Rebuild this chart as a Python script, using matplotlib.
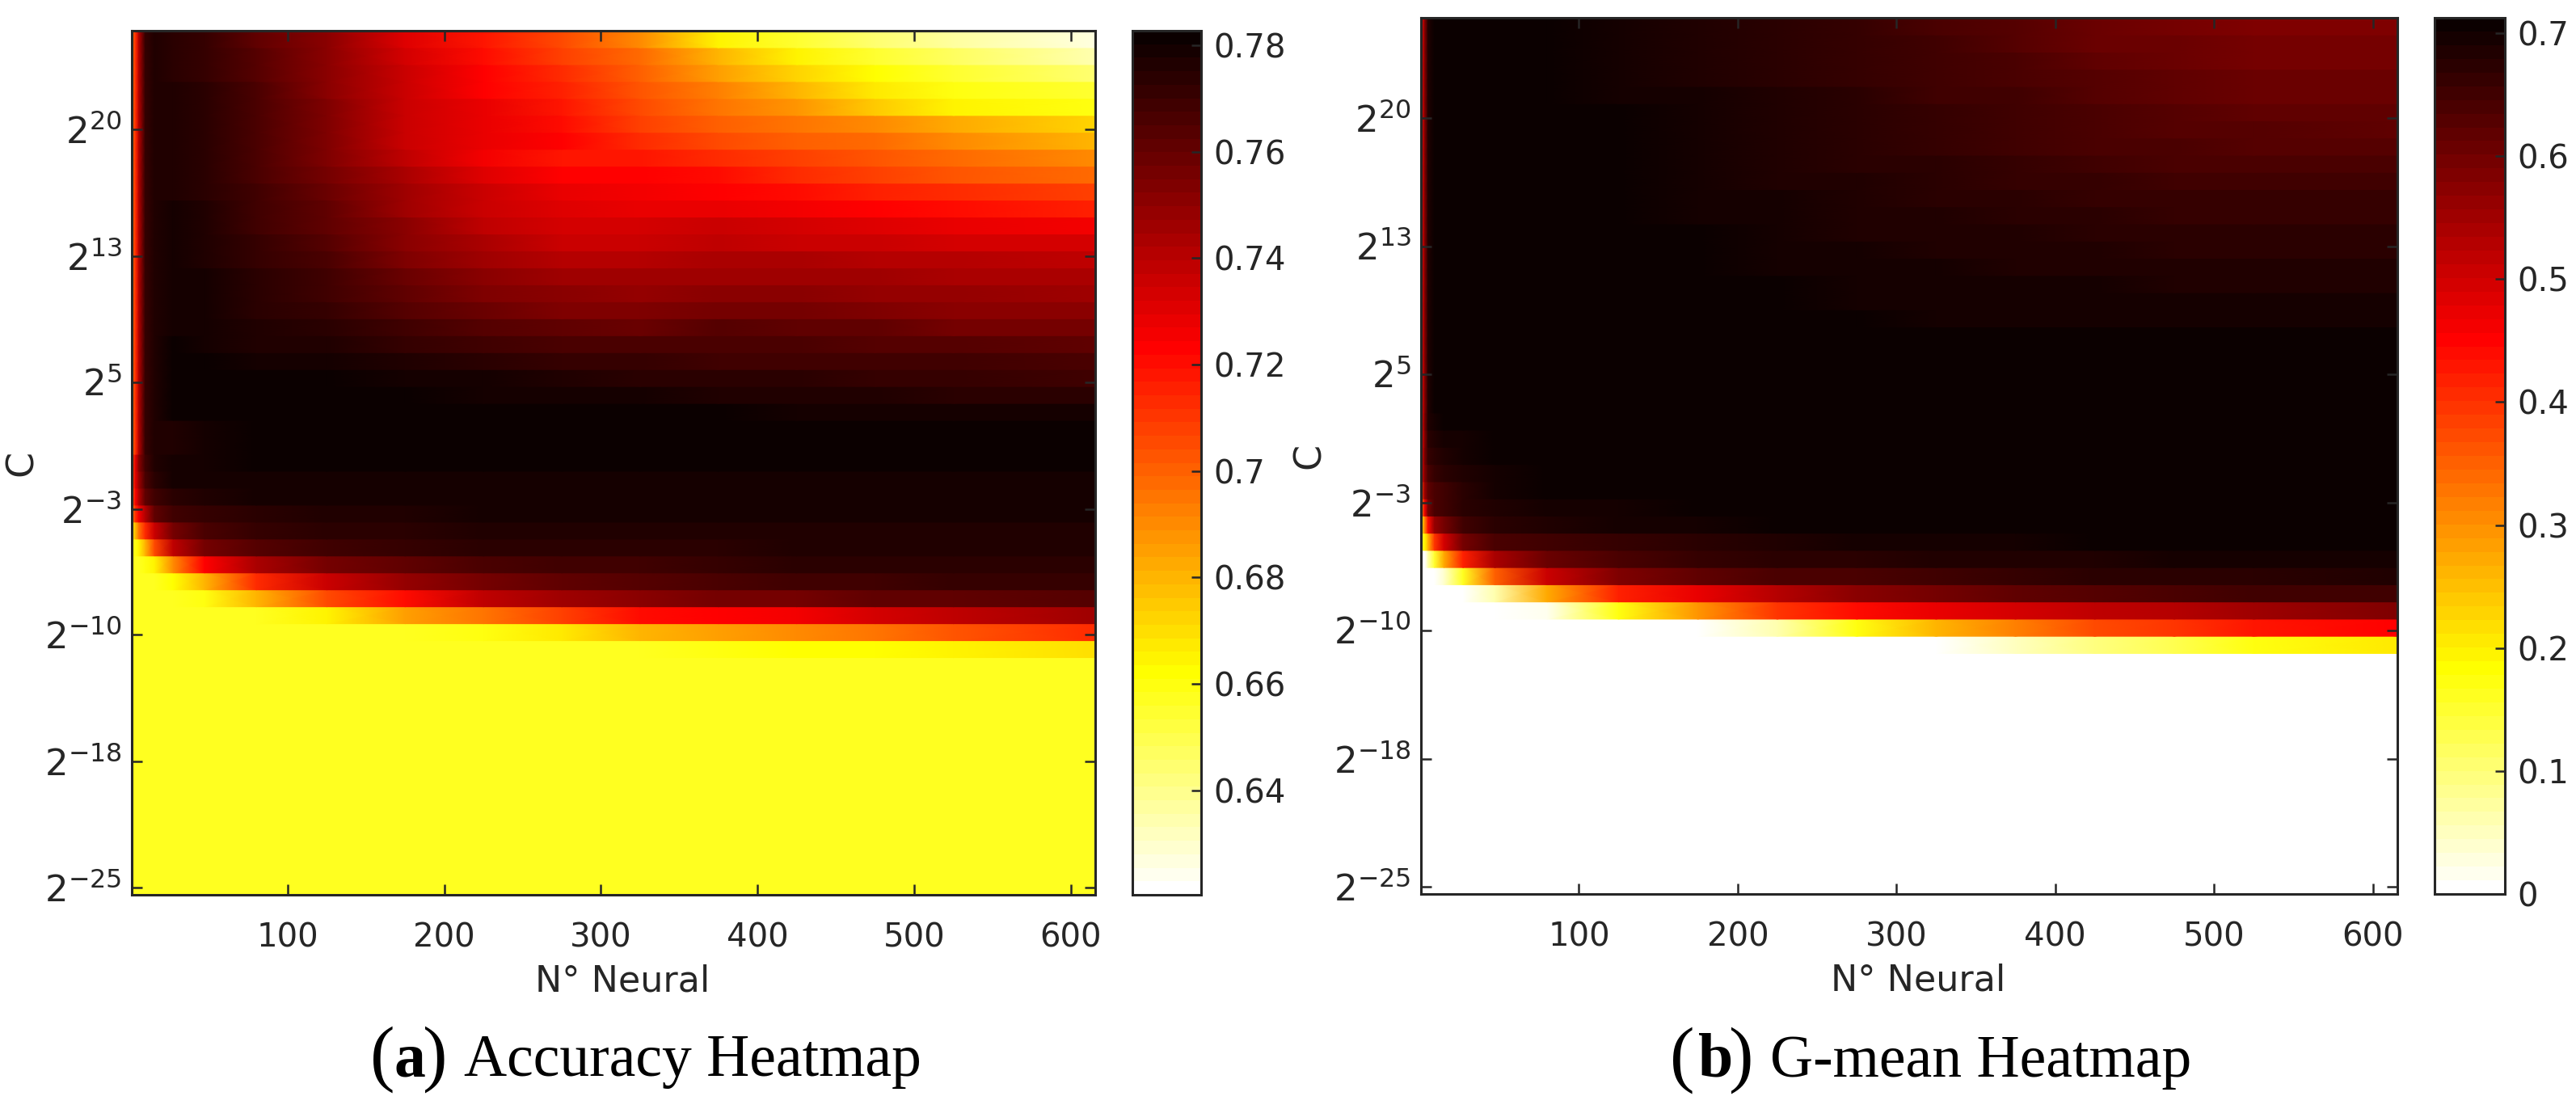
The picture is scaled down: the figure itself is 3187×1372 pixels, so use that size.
import matplotlib
matplotlib.use("Agg")
import matplotlib.pyplot as plt
import numpy as np

W, H = 3187, 1372

# N (hidden neurons) at each table column; rows run from C=2^25 (top) to C=2^-25 (bottom)
neuron_nodes = [0.5, 3, 5, 9, 15, 27, 47, 80, 125, 175, 225, 275, 325, 375, 425, 475, 525, 615.5]

x_ticks = [100, 200, 300, 400, 500, 600]
y_tick_rows = [0.93, 8.37, 15.86, 23.26, 30.75, 38.2, 45.68]
y_tick_exps = [-25, -18, -10, -3, 5, 13, 20]

acc_ticks = [0.64, 0.66, 0.68, 0.70, 0.72, 0.74, 0.76, 0.78]
acc_tick_labels = ["0.64", "0.66", "0.68", "0.7", "0.72", "0.74", "0.76", "0.78"]
acc_limits = (0.6204, 0.7827)
gm_ticks = [0, 0.1, 0.2, 0.3, 0.4, 0.5, 0.6, 0.7]
gm_tick_labels = ["0", "0.1", "0.2", "0.3", "0.4", "0.5", "0.6", "0.7"]
gm_limits = (0.0, 0.7125)

# values in thousandths
accuracy_rows = [
    [695, 712, 740, 772, 776, 775, 771, 762, 750, 731, 717, 705, 690, 665, 655, 645, 637, 626],
    [695, 712, 740, 772, 776, 775, 771, 763, 750, 733, 720, 709, 698, 680, 665, 655, 648, 635],
    [695, 712, 740, 772, 776, 775, 772, 764, 750, 735, 722, 713, 700, 685, 672, 662, 655, 645],
    [695, 712, 740, 772, 776, 776, 773, 765, 752, 735, 724, 715, 702, 692, 680, 668, 660, 654],
    [695, 712, 740, 772, 776, 776, 773, 766, 754, 735, 727, 717, 705, 695, 688, 675, 665, 660],
    [695, 712, 740, 772, 776, 776, 773, 766, 754, 736, 727, 720, 708, 700, 695, 690, 683, 672],
    [695, 712, 740, 772, 776, 777, 774, 766, 754, 737, 727, 722, 712, 706, 700, 697, 690, 680],
    [695, 712, 740, 772, 776, 777, 775, 766, 754, 739, 725, 719, 718, 712, 707, 703, 697, 690],
    [695, 712, 740, 772, 776, 777, 775, 767, 756, 743, 731, 723, 722, 720, 713, 708, 704, 698],
    [695, 712, 740, 772, 776, 777, 775, 768, 758, 745, 735, 727, 725, 723, 720, 715, 712, 707],
    [695, 712, 740, 772, 776, 778, 776, 769, 760, 747, 737, 731, 729, 729, 725, 722, 720, 715],
    [695, 712, 740, 772, 776, 778, 776, 770, 762, 750, 739, 733, 733, 735, 733, 731, 729, 725],
    [695, 712, 740, 772, 776, 779, 777, 771, 764, 752, 743, 737, 737, 738, 737, 735, 734, 732],
    [695, 712, 740, 772, 776, 779, 777, 772, 766, 754, 746, 741, 742, 744, 743, 742, 741, 738],
    [695, 712, 740, 772, 776, 779, 778, 773, 768, 758, 750, 745, 745, 747, 746, 745, 744, 743],
    [695, 712, 740, 772, 776, 780, 778, 774, 770, 760, 754, 750, 749, 751, 750, 749, 748, 747],
    [695, 712, 740, 772, 776, 780, 779, 775, 772, 764, 758, 754, 753, 757, 755, 754, 752, 751],
    [695, 712, 740, 772, 776, 780, 780, 776, 774, 768, 764, 760, 759, 763, 761, 760, 757, 757],
    [695, 712, 740, 772, 776, 781, 780, 777, 776, 772, 768, 766, 766, 767, 766, 763, 763, 762],
    [695, 712, 740, 772, 776, 781, 781, 779, 778, 776, 774, 772, 771, 770, 770, 769, 768, 767],
    [695, 712, 740, 772, 776, 781, 782, 782, 781, 779, 778, 776, 775, 774, 773, 772, 771, 770],
    [695, 712, 740, 772, 776, 781, 782, 782, 782, 781, 780, 779, 778, 777, 777, 776, 775, 775],
    [695, 712, 740, 772, 776, 781, 782, 782, 782, 782, 782, 782, 781, 781, 780, 780, 779, 779],
    [695, 712, 740, 772, 776, 777, 780, 781, 781, 782, 782, 782, 782, 782, 782, 782, 782, 782],
    [695, 712, 740, 772, 776, 777, 780, 781, 782, 782, 782, 782, 782, 782, 782, 782, 782, 782],
    [705, 730, 752, 770, 776, 778, 780, 781, 781, 781, 781, 781, 781, 781, 781, 781, 781, 781],
    [705, 730, 745, 766, 773, 778, 780, 780, 780, 780, 780, 780, 780, 780, 780, 780, 780, 780],
    [700, 725, 740, 760, 770, 775, 776, 778, 779, 779, 779, 779, 779, 779, 779, 779, 779, 779],
    [690, 712, 725, 741, 760, 768, 771, 773, 776, 777, 778, 778, 779, 779, 779, 779, 779, 779],
    [665, 680, 695, 712, 737, 757, 766, 771, 773, 775, 776, 776, 777, 777, 777, 777, 777, 777],
    [658, 660, 665, 680, 705, 738, 755, 763, 768, 771, 773, 774, 775, 775, 776, 776, 776, 776],
    [656, 657, 658, 660, 664, 690, 722, 744, 755, 762, 765, 768, 770, 772, 773, 773, 774, 774],
    [656, 656, 656, 656, 657, 661, 680, 712, 735, 748, 755, 760, 764, 767, 769, 770, 771, 772],
    [656, 656, 656, 656, 656, 657, 660, 680, 705, 720, 738, 746, 751, 755, 757, 760, 762, 763],
    [656, 656, 656, 656, 656, 656, 656, 656, 664, 685, 695, 708, 720, 723, 725, 732, 739, 746],
    [656, 656, 656, 656, 656, 656, 656, 656, 656, 656, 660, 668, 680, 685, 690, 695, 703, 712],
    [656, 656, 656, 656, 656, 656, 656, 656, 656, 656, 656, 656, 656, 659, 661, 663, 665, 669],
] + [[656] * 18] * 14

gmean_rows = [
    [452, 590, 690, 708, 711, 711, 711, 705, 698, 686, 673, 660, 643, 630, 606, 597, 588, 585],
    [452, 590, 690, 708, 711, 711, 711, 706, 699, 688, 675, 662, 646, 634, 612, 602, 594, 592],
    [452, 590, 690, 708, 711, 711, 711, 706, 700, 689, 677, 664, 650, 638, 618, 608, 600, 598],
    [452, 590, 690, 708, 711, 711, 711, 707, 700, 690, 679, 667, 653, 642, 625, 615, 606, 604],
    [452, 590, 690, 708, 711, 711, 711, 707, 701, 691, 681, 669, 656, 646, 630, 620, 612, 610],
    [452, 590, 690, 708, 711, 711, 711, 708, 702, 692, 683, 672, 660, 650, 636, 626, 618, 616],
    [452, 590, 690, 708, 711, 711, 711, 708, 702, 693, 684, 675, 663, 653, 642, 633, 625, 622],
    [452, 590, 690, 708, 711, 711, 711, 708, 703, 694, 685, 675, 664, 655, 642, 636, 632, 630],
    [452, 590, 690, 708, 711, 711, 711, 709, 704, 696, 687, 678, 668, 660, 650, 645, 641, 640],
    [452, 590, 690, 708, 711, 711, 711, 709, 705, 698, 689, 680, 672, 665, 657, 653, 650, 650],
    [452, 590, 690, 708, 711, 711, 711, 710, 706, 699, 691, 683, 677, 670, 664, 660, 658, 658],
    [452, 590, 690, 708, 711, 711, 711, 710, 707, 700, 692, 686, 681, 675, 670, 667, 665, 665],
    [452, 590, 690, 708, 711, 711, 711, 711, 708, 702, 695, 689, 684, 680, 676, 673, 672, 672],
    [452, 590, 690, 708, 711, 711, 711, 711, 709, 703, 697, 692, 688, 685, 681, 679, 678, 678],
    [452, 590, 690, 708, 711, 711, 711, 711, 710, 705, 699, 695, 692, 689, 687, 685, 684, 684],
    [452, 590, 690, 708, 711, 711, 711, 711, 710, 707, 702, 698, 695, 693, 691, 690, 690, 690],
    [452, 590, 690, 708, 711, 711, 711, 711, 711, 708, 704, 700, 698, 696, 695, 694, 694, 694],
    [452, 590, 690, 708, 711, 711, 711, 711, 711, 709, 706, 703, 701, 700, 699, 698, 698, 698],
    [452, 590, 690, 708, 711, 711, 711, 711, 711, 710, 708, 706, 704, 703, 702, 702, 702, 702],
    [452, 590, 690, 708, 711, 711, 711, 711, 711, 711, 710, 708, 707, 706, 706, 705, 705, 705],
    [452, 590, 690, 708, 711, 711, 711, 711, 711, 711, 711, 710, 709, 709, 708, 708, 708, 708],
    [452, 590, 690, 708, 711, 711, 711, 711, 711, 711, 711, 711, 711, 710, 710, 710, 710, 710],
    [452, 590, 690, 708, 711, 711, 711, 711, 711, 711, 711, 711, 711, 711, 711, 711, 711, 711],
    [452, 600, 680, 700, 708, 711, 711, 711, 711, 711, 711, 711, 711, 711, 711, 711, 711, 711],
    [452, 590, 670, 688, 692, 700, 708, 711, 711, 711, 711, 711, 711, 711, 711, 711, 711, 711],
    [460, 600, 660, 675, 680, 695, 705, 710, 711, 711, 711, 711, 711, 711, 711, 711, 711, 711],
    [470, 590, 640, 665, 672, 680, 700, 706, 710, 711, 711, 711, 711, 711, 711, 711, 711, 711],
    [400, 560, 620, 640, 650, 672, 695, 702, 706, 709, 711, 711, 711, 711, 711, 711, 711, 711],
    [320, 470, 600, 640, 650, 668, 688, 695, 698, 702, 705, 708, 711, 711, 711, 711, 711, 711],
    [200, 320, 440, 560, 600, 650, 672, 682, 692, 698, 702, 706, 709, 711, 711, 711, 710, 709],
    [150, 190, 260, 400, 500, 600, 635, 650, 665, 675, 685, 692, 698, 700, 702, 703, 705, 706],
    [0, 10, 60, 150, 270, 420, 545, 605, 640, 660, 672, 678, 683, 688, 690, 692, 695, 697],
    [0, 0, 0, 5, 40, 160, 350, 510, 585, 620, 635, 642, 655, 662, 668, 672, 678, 682],
    [0, 0, 0, 0, 0, 0, 60, 270, 420, 470, 525, 570, 595, 620, 630, 640, 650, 655],
    [0, 0, 0, 0, 0, 0, 0, 20, 170, 290, 390, 440, 470, 500, 515, 530, 550, 585],
    [0, 0, 0, 0, 0, 0, 0, 0, 0, 0, 60, 175, 260, 320, 370, 400, 430, 452],
    [0, 0, 0, 0, 0, 0, 0, 0, 0, 0, 0, 0, 0, 50, 90, 130, 175, 210],
] + [[0] * 18] * 14

INK = "#262626"
plt.rcParams["font.family"] = "DejaVu Sans"
plt.rcParams["text.color"] = INK
plt.rcParams["mathtext.fontset"] = "dejavusans"
TICK_SIZE = 29
CMAP = plt.get_cmap("hot_r", 64)


def _box(fig, left, top, right, bottom):
    return fig.add_axes([left / W, 1 - bottom / H, (right - left) / W, (bottom - top) / H])


def _style_spines(ax):
    for spine in ax.spines.values():
        spine.set_color(INK)
        spine.set_linewidth(2.2)
        spine.set_zorder(5)


def draw_heatmap(fig, rows, limits, ticks, tick_labels, main_box, bar_box, ylabel_x):
    ax = _box(fig, *main_box)
    values = np.flipud(np.array(rows, dtype=float)) / 1000.0
    row_edges = np.arange(values.shape[0] + 1) + 0.5
    # each row is a flat band: two vertex lines per row, shaded only along N
    band_y = np.repeat(row_edges, 2)[1:-1]
    band_values = np.repeat(values, 2, axis=0)
    mesh = ax.pcolormesh(neuron_nodes, band_y, band_values, cmap=CMAP, vmin=limits[0], vmax=limits[1],
                         shading="gouraud", rasterized=True)
    ax.set_xlim(neuron_nodes[0], neuron_nodes[-1])
    ax.set_ylim(row_edges[0], row_edges[-1])
    ax.set_xticks(x_ticks)
    ax.set_yticks(y_tick_rows)
    ax.set_yticklabels([rf"$\mathregular{{2^{{{e}}}}}$" for e in y_tick_exps])
    ax.tick_params(axis="both", direction="in", top=True, right=True, length=9.4, width=1.8,
                   color=INK, labelcolor=INK, labelsize=TICK_SIZE)
    ax.tick_params(axis="x", pad=24)
    ax.tick_params(axis="y", pad=9, labelsize=32.5)
    _style_spines(ax)
    ax.set_xlabel("N° Neural", fontsize=32, color=INK, labelpad=9)
    ax.xaxis.label.set_x(0.509)
    ax.set_ylabel("C", fontsize=33, color=INK)
    ax.yaxis.set_label_coords((ylabel_x + 21 - main_box[0]) / (main_box[2] - main_box[0]), 0.5)

    cax = _box(fig, *bar_box)
    cbar = fig.colorbar(mesh, cax=cax)
    cbar.set_ticks(ticks)
    cbar.set_ticklabels(tick_labels)
    cbar.ax.tick_params(direction="in", length=8.5, width=1.8, color=INK, labelcolor=INK,
                        labelsize=TICK_SIZE, pad=11)
    cbar.outline.set_edgecolor(INK)
    cbar.outline.set_linewidth(2.2)


def caption(fig, paren_left, letter_left, paren_right, text_left, baseline, letter, text):
    def y(v):
        return 1 - v / H
    fig.text(paren_left / W, y(baseline + 2), "(", family="Liberation Serif", fontsize=66, color="black",
             ha="left", va="baseline")
    fig.text(letter_left / W, y(baseline), letter, family="Liberation Serif", weight="bold", fontsize=56,
             color="black", ha="left", va="baseline")
    fig.text(paren_right / W, y(baseline + 2), ")", family="Liberation Serif", fontsize=66, color="black",
             ha="right", va="baseline")
    fig.text(text_left / W, y(baseline), text, family="Liberation Serif", fontsize=53, color="black",
             ha="left", va="baseline")


def main():
    fig = plt.figure(figsize=(W / 100, H / 100), dpi=100, facecolor="white")
    draw_heatmap(fig, accuracy_rows, acc_limits, acc_ticks, acc_tick_labels,
                 (163, 38, 1355, 1107), (1401, 38, 1486, 1107), 29)
    draw_heatmap(fig, gmean_rows, gm_limits, gm_ticks, gm_tick_labels,
                 (1758, 22, 2966, 1106), (3012, 22, 3099, 1106), 1622)
    caption(fig, 458, 487, 554, 574, 1331, "a", "Accuracy Heatmap")
    caption(fig, 2066, 2101, 2170, 2190, 1332, "b", "G-mean Heatmap")
    fig.savefig("out.png", dpi=100)
    plt.close(fig)


if __name__ == "__main__":
    main()
